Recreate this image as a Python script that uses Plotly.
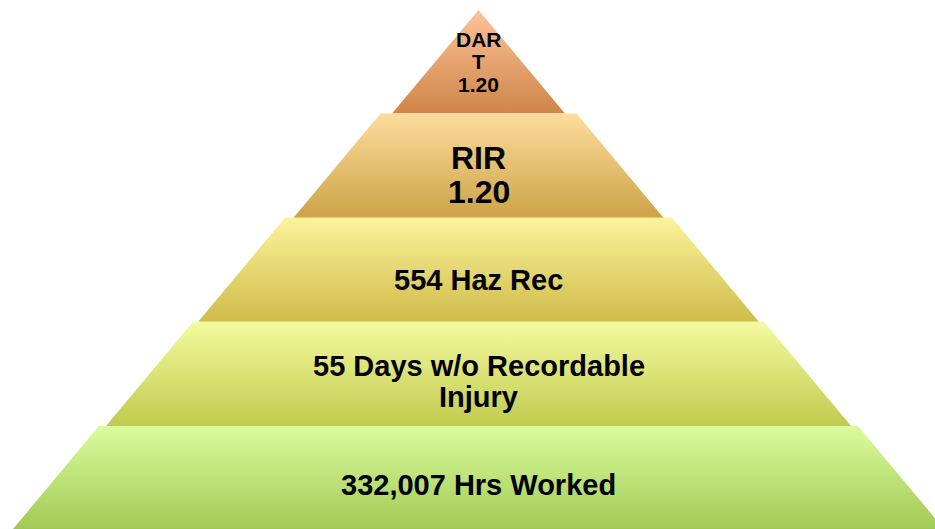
import plotly.graph_objects as go

# ---- data ----
labels = ["DAR<br>T<br>1.20", "RIR<br>1.20", "554 Haz Rec",
          "55 Days w/o Recordable<br>Injury", "332,007 Hrs Worked"]
top_colors = ["#FDC39B", "#FDDD9D", "#FCF39B", "#F4FB9F", "#DAFC9C"]
bottom_colors = ["#CF8547", "#CDA348", "#CEBC4A", "#C1CA4E", "#A3C955"]
font_sizes = [21, 32, 29, 29, 29]

# ---- geometry (layout, pixels) ----
W, H = 935, 529
cx = 478.5
slope = 0.835
tops = [10, 113.5, 217.7, 321.7, 426]
bots = [113.3, 217.7, 321.7, 426, 545]
half_tops = [0, 98, 193.5, 285.5, 379.5]
text_frac = [0.5, 0.59, 0.6, 0.57, 0.57]
FONT = "Liberation Sans, Arial, sans-serif"

fig = go.Figure()
annotations = []
for i, lab in enumerate(labels):
    t, b, ht = tops[i], bots[i], half_tops[i]
    hb = ht + slope * (b - t)
    xs = [cx - ht, cx + ht, cx + hb, cx - hb, cx - ht]
    ys = [t, t, b, b, t]
    fig.add_trace(go.Scatter(
        x=xs, y=ys, mode="lines", fill="toself",
        line=dict(width=0, color="rgba(0,0,0,0)"),
        fillgradient=dict(type="vertical", start=t, stop=min(b, 529),
                          colorscale=[[0, top_colors[i]], [1, bottom_colors[i]]]),
        hoverinfo="skip", showlegend=False))
    lines = lab.split("<br>")
    fs = font_sizes[i]
    gap = fs * 1.07
    yc = t + text_frac[i] * (min(b, 529) - t) if i < 4 else 485
    n = len(lines)
    for k, ln in enumerate(lines):
        y = yc + (k - (n - 1) / 2) * gap
        annotations.append(dict(x=cx, y=y, text=ln, showarrow=False,
                                xanchor="center", yanchor="middle",
                                font=dict(family=FONT, size=fs, color="black", weight="bold")))

fig.update_layout(
    width=W, height=H, margin=dict(l=0, r=0, t=0, b=0),
    paper_bgcolor="white", plot_bgcolor="white",
    xaxis=dict(range=[0, W], visible=False, fixedrange=True),
    yaxis=dict(range=[H, 0], visible=False, fixedrange=True),
    annotations=annotations, showlegend=False,
)
fig.write_html("out.html", config={"displayModeBar": False},
               post_script="document.body.style.margin='0';")
